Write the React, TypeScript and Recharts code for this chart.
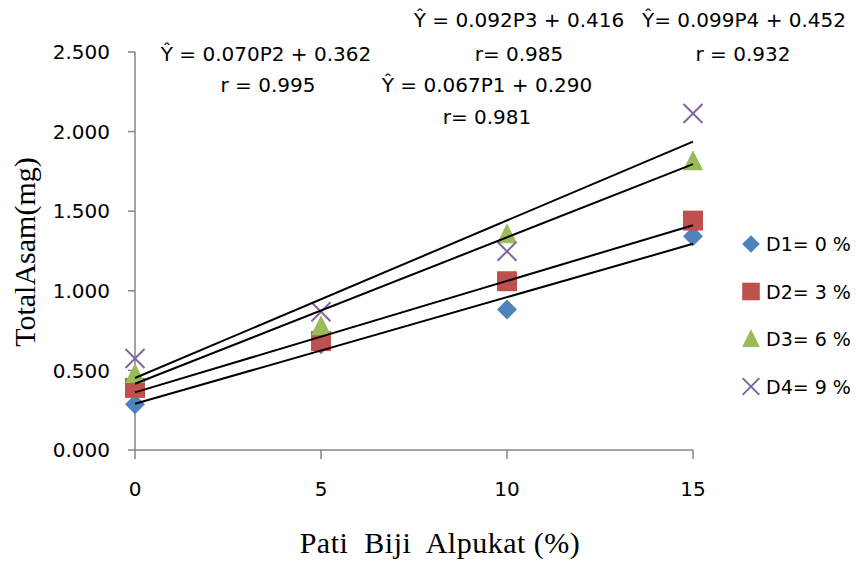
import { ScatterChart, Scatter, XAxis, YAxis } from 'recharts';

// measured points (TotalAsam in mg) per level of pati biji alpukat
const patiLevels = [0, 5, 10, 15];
const d1Values = [0.287, 0.665, 0.883, 1.343];
const d2Values = [0.39, 0.684, 1.06, 1.441];
const d3Values = [0.477, 0.778, 1.355, 1.813];
const d4Values = [0.575, 0.868, 1.248, 2.114];

// trend line end points
const trendX = [0, 15];
const trend1 = [0.29, 1.295];
const trend2 = [0.362, 1.412];
const trend3 = [0.416, 1.796];
const trend4 = [0.452, 1.937];

const yTicks = [0, 0.5, 1, 1.5, 2, 2.5];
const xTicks = [0, 5, 10, 15];

const seriesNames = ['D1= 0 %', 'D2= 3 %', 'D3= 6 %', 'D4= 9 %'];
const seriesColors = ['#4F81BD', '#C0504D', '#9BBB59', '#8064A2'];

const toPoints = (xs: number[], ys: number[]) => xs.map((x, i) => ({ x, y: ys[i] }));

const FONT = '"DejaVu Sans", sans-serif';
const SERIF = '"Liberation Serif", "Times New Roman", serif';

function Marker({ kind, cx, cy, s = 1 }: { kind: number; cx: number; cy: number; s?: number }) {
  const c = seriesColors[kind];
  if (kind === 0) {
    const h = 10 * s;
    return <polygon points={`${cx},${cy - h} ${cx + h},${cy} ${cx},${cy + h} ${cx - h},${cy}`} fill={c} />;
  }
  if (kind === 1) {
    const h = 10 * s;
    return <rect x={cx - h} y={cy - h} width={2 * h} height={2 * h} fill={c} />;
  }
  if (kind === 2) {
    const w = 10 * s;
    return <polygon points={`${cx},${cy - 11 * s} ${cx + w},${cy + 9 * s} ${cx - w},${cy + 9 * s}`} fill={c} />;
  }
  const h = 9.5 * s;
  return (
    <g stroke={c} strokeWidth={2}>
      <line x1={cx - h} y1={cy - h} x2={cx + h} y2={cy + h} />
      <line x1={cx - h} y1={cy + h} x2={cx + h} y2={cy - h} />
    </g>
  );
}

const noShape = () => <g />;

const annotations = [
  { text: 'Ŷ = 0.092P3 + 0.416', x: 519, y: 27 },
  { text: 'Ŷ= 0.099P4 + 0.452', x: 744, y: 27 },
  { text: 'Ŷ = 0.070P2 + 0.362', x: 266, y: 61 },
  { text: 'r= 0.985', x: 519, y: 61 },
  { text: 'r = 0.932', x: 743, y: 61 },
  { text: 'r = 0.995', x: 268, y: 92 },
  { text: 'Ŷ = 0.067P1 + 0.290', x: 487, y: 92 },
  { text: 'r= 0.981', x: 487, y: 124 },
];

export default function App() {
  const series = [d1Values, d2Values, d3Values, d4Values];
  const trends = [trend1, trend2, trend3, trend4];

  return (
    <div style={{ position: 'fixed', left: 0, top: 0, width: 856, height: 565, background: '#fff' }}>
      <ScatterChart width={856} height={565} margin={{ top: 52, right: 163, left: 0, bottom: 0 }}>
        <XAxis
          type="number"
          dataKey="x"
          domain={[0, 15]}
          ticks={xTicks}
          height={115}
          stroke="#868686"
          strokeWidth={1.5}
          tickSize={9}
          tickMargin={23}
          tick={{ fill: '#000', fontSize: 20, fontFamily: FONT }}
        />
        <YAxis
          type="number"
          dataKey="y"
          domain={[0, 2.5]}
          ticks={yTicks}
          width={135}
          stroke="#868686"
          strokeWidth={1.5}
          tickSize={7}
          tickMargin={18}
          tickFormatter={(v: number) => v.toFixed(3)}
          tick={{ fill: '#000', fontSize: 20, fontFamily: FONT }}
        />
        {series.map((vals, i) => (
          <Scatter
            key={seriesNames[i]}
            name={seriesNames[i]}
            data={toPoints(patiLevels, vals)}
            isAnimationActive={false}
            shape={(p: any) => <Marker kind={i} cx={p.cx} cy={p.cy} />}
          />
        ))}
        {trends.map((t, i) => (
          <Scatter
            key={'trend' + i}
            data={toPoints(trendX, t)}
            isAnimationActive={false}
            line={{ stroke: '#000', strokeWidth: 2 }}
            shape={noShape}
            legendType="none"
          />
        ))}
      </ScatterChart>
      <svg
        width={856}
        height={565}
        style={{ position: 'absolute', left: 0, top: 0, pointerEvents: 'none' }}
      >
        {annotations.map((a) => (
          <text key={a.text} x={a.x} y={a.y} textAnchor="middle" fontFamily={FONT} fontSize={20} fill="#000">
            {a.text}
          </text>
        ))}
        <text
          x={440}
          y={553}
          textAnchor="middle"
          fontFamily={SERIF}
          fontSize={30}
          letterSpacing={0.5}
          fill="#000"
          style={{ whiteSpace: 'pre' }}
        >
          {'Pati  Biji  Alpukat (%)'}
        </text>
        <text
          x={35}
          y={252}
          transform="rotate(-90 35 252)"
          textAnchor="middle"
          fontFamily={SERIF}
          fontSize={30}
          fill="#000"
        >
          TotalAsam(mg)
        </text>
        {seriesNames.map((name, i) => (
          <g key={name} transform={`translate(751, ${244 + i * 47.5})`}>
            <Marker kind={i} cx={0} cy={0} s={0.88} />
            <text x={15} y={7} fontFamily={FONT} fontSize={19} fill="#000">
              {name}
            </text>
          </g>
        ))}
      </svg>
    </div>
  );
}
